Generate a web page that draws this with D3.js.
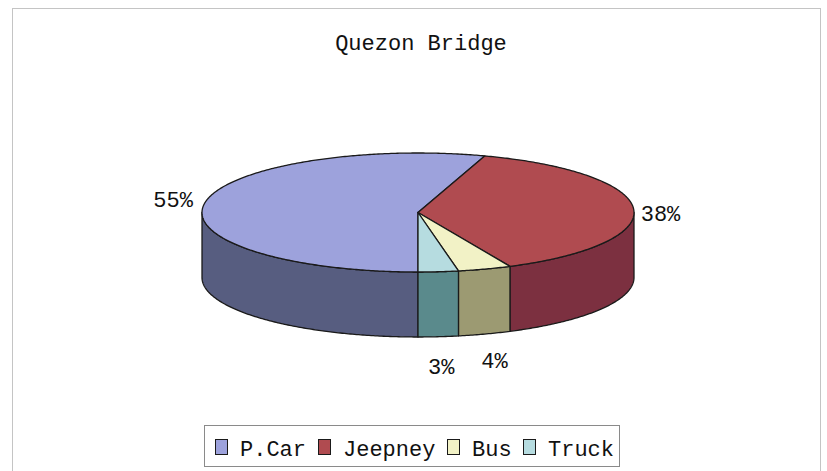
<!DOCTYPE html>
<html>
<head>
<meta charset="utf-8">
<script src="https://cdn.jsdelivr.net/npm/d3@7"></script>
<style>
  html, body { margin: 0; padding: 0; background: #fff; }
  svg { display: block; }
  text { font-family: "Liberation Mono", "Courier New", monospace; fill: #111; }
</style>
</head>
<body>
<svg id="chart" width="827" height="471"></svg>
<script>
// Vehicle mix on Quezon Bridge (share of traffic, %)
const categories = ["P.Car", "Jeepney", "Bus", "Truck"];
const shares = [55, 38, 4, 3];
const topColors = ["#9da2dc", "#b04b50", "#f2f2c6", "#b6dce0"];
const sideColors = ["#575d80", "#7c3040", "#9c9a72", "#5a8a8c"];
const title = "Quezon Bridge";

const svg = d3.select("#chart");

// chart frame
svg.append("rect")
  .attr("x", 12.5).attr("y", 8.5)
  .attr("width", 808).attr("height", 475)
  .attr("fill", "#fff").attr("stroke", "#c4c4c4").attr("stroke-width", 1);

svg.append("text")
  .attr("x", 421).attr("y", 50)
  .attr("text-anchor", "middle")
  .attr("font-size", 22)
  .text(title);

// 3-D pie geometry: elliptical top face plus a visible front wall
const cx = 418, cy = 212.5, rx = 216, ry = 59.5, depth = 65;

const pie = d3.pie().sort(null).value(d => d.v)
  .startAngle(Math.PI).endAngle(3 * Math.PI);
const arcs = pie(categories.map((c, i) => ({ c, v: shares[i], i })));

const px = a => cx + rx * Math.sin(a);
const py = a => cy - ry * Math.cos(a);

function rimPoints(a0, a1, dy) {
  const n = Math.max(2, Math.ceil(Math.abs(a1 - a0) / 0.01));
  return d3.range(n + 1).map(k => {
    const a = a0 + (a1 - a0) * k / n;
    return [px(a), py(a) + dy];
  });
}

const line = d3.line();
const edge = "#1a1a1a";

// front half of the ellipse (angles where the wall faces the viewer)
const frontRanges = [[Math.PI, 1.5 * Math.PI], [2.5 * Math.PI, 3 * Math.PI]];

const sides = svg.append("g");
arcs.forEach(d => {
  frontRanges.forEach(([f0, f1]) => {
    const a0 = Math.max(d.startAngle, f0), a1 = Math.min(d.endAngle, f1);
    if (a1 - a0 <= 1e-6) return;
    const pts = rimPoints(a0, a1, 0).concat(rimPoints(a1, a0, depth));
    sides.append("path")
      .attr("d", line(pts) + "Z")
      .attr("fill", sideColors[d.data.i])
      .attr("stroke", edge).attr("stroke-width", 1.3)
      .attr("stroke-linejoin", "round");
  });
});

const tops = svg.append("g");
arcs.forEach(d => {
  const pts = [[cx, cy]].concat(rimPoints(d.startAngle, d.endAngle, 0));
  tops.append("path")
    .attr("d", line(pts) + "Z")
    .attr("fill", topColors[d.data.i])
    .attr("stroke", edge).attr("stroke-width", 1.3)
    .attr("stroke-linejoin", "round");
});

// percentage labels outside each slice, nudged apart when they collide
const pad = 32;
const labels = arcs.map(d => {
  const m = (d.startAngle + d.endAngle) / 2;
  const down = Math.max(0, -Math.cos(m));
  const right = Math.sin(m) > 0 ? 1 : 0;
  return {
    text: d.data.v + "%",
    x: cx + (rx + pad) * Math.sin(m) - right * 5 * (1 - down),
    y: cy - (ry + pad) * Math.cos(m) + depth * down + 9 + right * 5 * (1 - down) - 3 * down,
    bottom: down > 0.5
  };
});
const bottomLabels = labels.filter(l => l.bottom).sort((a, b) => a.x - b.x);
for (let k = 1; k < bottomLabels.length; k++) {
  const prev = bottomLabels[k - 1];
  const gap = bottomLabels[k].x - prev.x;
  if (gap < 50) {
    bottomLabels[k].x += 50 - gap;
    bottomLabels[k].y -= 3;
  }
}
svg.append("g").selectAll("text").data(labels).join("text")
  .attr("x", d => d.x).attr("y", d => d.y)
  .attr("text-anchor", "middle")
  .attr("font-size", 22)
  .text(d => d.text);

// legend
const lg = svg.append("g");
lg.append("rect")
  .attr("x", 204.5).attr("y", 425.5).attr("width", 415).attr("height", 41)
  .attr("fill", "#fff").attr("stroke", "#8a8a8a").attr("stroke-width", 1);
const legendX = [215, 318, 447, 523];
categories.forEach((c, i) => {
  lg.append("rect")
    .attr("x", legendX[i] + 0.5).attr("y", 439.5).attr("width", 12).attr("height", 15)
    .attr("fill", topColors[i]).attr("stroke", edge).attr("stroke-width", 1);
  lg.append("text")
    .attr("x", legendX[i] + 25).attr("y", 456)
    .attr("font-size", 22)
    .text(c);
});
</script>
</body>
</html>
